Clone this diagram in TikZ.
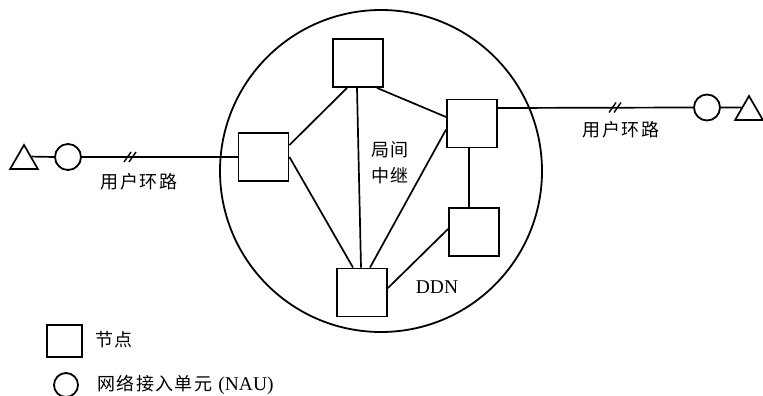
\documentclass[tikz,border=0pt]{standalone}
\usepackage{fontspec}
\setmainfont{Liberation Serif}
\newfontfamily\cjk[LetterSpace=8]{Noto Sans CJK SC}
\usetikzlibrary{shapes.geometric}
\begin{document}
\begin{tikzpicture}[x=1pt,y=-1pt,
  nodebox/.style={draw,line width=1.9pt,minimum width=50pt,minimum height=48pt,inner sep=0pt},
  nau/.style={draw,circle,line width=1.8pt,minimum size=26pt,inner sep=0pt},
  term/.style={draw,regular polygon,regular polygon sides=3,minimum size=32pt,inner sep=0pt,line width=1.7pt},
  link/.style={line width=1.7pt},
  cjktext/.style={font=\cjk\fontsize{18}{20}\selectfont,inner sep=0pt},
  lattext/.style={font=\fontsize{19.5}{22}\selectfont,inner sep=0pt},
  hash/.style={line width=1.4pt}]
\useasboundingbox (0,0) rectangle (763,396);
% network cloud
\node[draw,circle,line width=1.8pt,minimum size=322pt,inner sep=0pt] (ddn) at (381,171) {};
% nodes
\node[nodebox] (top) at (358,63) {};
\node[nodebox] (left) at (263.5,157) {};
\node[nodebox] (right) at (472,123.5) {};
\node[nodebox] (lr) at (474,232) {};
\node[nodebox] (bot) at (362,292.5) {};
% trunk links
\draw[link] ([xshift=-11pt]top.south) -- ([yshift=12pt]left.east);
\draw[link] ([xshift=-1pt]top.south) -- ([xshift=-1pt]bot.north);
\draw[link] ([xshift=19pt]top.south) -- ([yshift=6.5pt]right.west);
\draw[link] (left.east) -- ([xshift=-9pt]bot.north);
\draw[link] ([yshift=-6pt]right.west) -- ([xshift=8pt]bot.north);
\draw[link] ([xshift=-3pt]right.south) -- ([xshift=-5pt]lr.north);
\draw[link] ([yshift=3pt]lr.west) -- ([yshift=4.5pt]bot.east);
% left access
\node[term] (tL) at (24,161) {};
\node[nau] (nL) at (68,157) {};
\draw[link] (tL.side 3) -- (nL.west);
\draw[link] (nL.east) -- (left.west);
\coordinate (hL) at (130,157);
\draw[hash] ([shift={(-6,5)}]hL) -- ([shift={(1,-5)}]hL);
\draw[hash] ([shift={(-1,5)}]hL) -- ([shift={(6,-5)}]hL);
% right access
\node[term] (tR) at (749,112) {};
\node[nau] (nR) at (707,107.5) {};
\draw[link] ([yshift=15.5pt]right.east) -- (nR.west);
\draw[link] (nR.east) -- (tR.side 1);
\coordinate (hR) at (615,107.5);
\draw[hash] ([shift={(-6,5)}]hR) -- ([shift={(1,-5)}]hR);
\draw[hash] ([shift={(-1,5)}]hR) -- ([shift={(6,-5)}]hR);
% labels
\node[cjktext] (lblL) at (139,182) {用户环路};
\node[cjktext] (lblR) at (621,130) {用户环路};
\node[cjktext] (tr1) at (390,150) {局间};
\node[cjktext] (tr2) at (390,176) {中继};
\node[lattext] (ddnlbl) at (437,287) {DDN};
% legend
\node[draw,line width=1.9pt,minimum width=35pt,minimum height=32pt,inner sep=0pt] (legbox) at (64.5,341) {};
\node[cjktext,anchor=west] (legboxt) at (95,340) {节点};
\node[draw,circle,line width=1.8pt,minimum size=24pt,inner sep=0pt] (legnau) at (66,385) {};
\node[anchor=west,inner sep=0pt] (legnaut) at (97,385) {\cjk\fontsize{18}{20}\selectfont 网络接入单元\hspace{6pt}\normalfont\fontsize{19.5}{22}\selectfont(NAU)};
\end{tikzpicture}
\end{document}
